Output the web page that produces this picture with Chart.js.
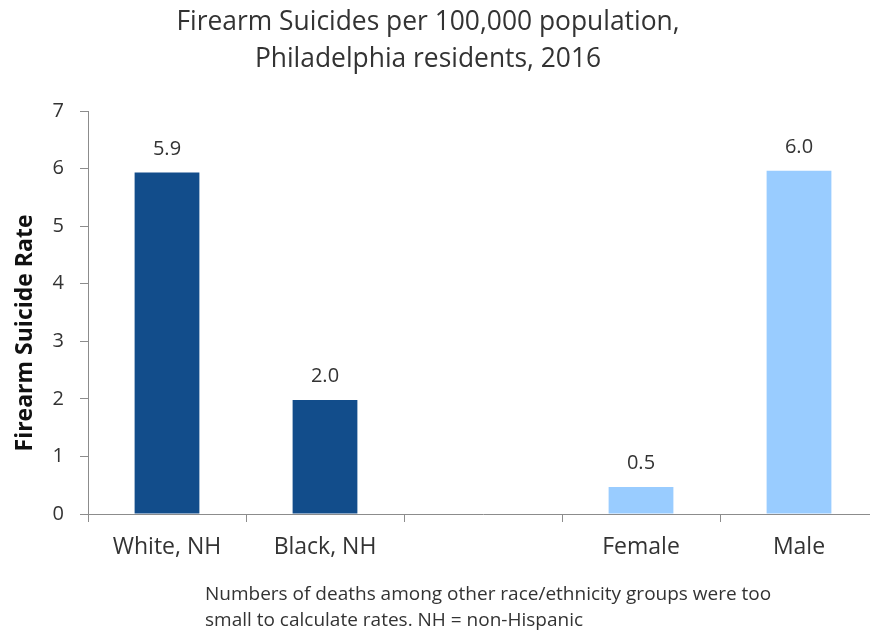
<!DOCTYPE html>
<html><head><meta charset="utf-8">
<script src="https://cdn.jsdelivr.net/npm/chart.js@4"></script>
<style>html,body{margin:0;padding:0;overflow:hidden;background:#fff}
#wrap{width:880px;height:630px;position:relative}</style>
</head><body><div id="wrap"><canvas id="c"></canvas></div>
<script>
const categories = ['White, NH', 'Black, NH', '', 'Female', 'Male'];
const rates = [5.93, 1.98, null, 0.47, 5.96];
const barColors = ['#124D8B', '#124D8B', '#124D8B', '#99CCFF', '#99CCFF'];
const yMin = 0, yMax = 7, yStep = 1;
const titleLines = ['Firearm Suicides per 100,000 population,', 'Philadelphia residents, 2016'];
const footnoteLines = ['Numbers of deaths among other race/ethnicity groups were too', 'small to calculate rates. NH = non-Hispanic'];
const yAxisTitle = 'Firearm Suicide Rate';

const FONT = '"Open Sans", "DejaVu Sans", sans-serif';
const textColor = '#333333';

const textPlugin = {
  id: 'texts',
  afterDatasetsDraw(chart) {
    const ctx = chart.ctx;
    ctx.save();
    ctx.fillStyle = textColor;
    // data labels
    ctx.font = '20px ' + FONT;
    ctx.textAlign = 'center';
    ctx.textBaseline = 'alphabetic';
    const meta = chart.getDatasetMeta(0);
    meta.data.forEach((bar, i) => {
      if (rates[i] == null) return;
      ctx.fillText(rates[i].toFixed(1), bar.x, bar.y - 18);
    });
    // title
    ctx.font = '26.4px ' + FONT;
    ctx.textAlign = 'center';
    titleLines.forEach((l, i) => ctx.fillText(l, 428, 30 + i * 37));
    // footnote
    ctx.font = '19px ' + FONT;
    ctx.textAlign = 'left';
    footnoteLines.forEach((l, i) => ctx.fillText(l, 205, 600 + i * 26));
    // y axis title
    ctx.save();
    ctx.fillStyle = '#111111';
    ctx.font = 'bold 23px ' + FONT;
    ctx.translate(32, 333);
    ctx.rotate(-Math.PI / 2);
    ctx.textAlign = 'center';
    ctx.fillText(yAxisTitle, 0, 0);
    ctx.restore();
    ctx.restore();
  }
};

new Chart(document.getElementById('c'), {
  type: 'bar',
  data: {
    labels: categories,
    datasets: [{
      data: rates,
      backgroundColor: barColors,
      borderWidth: 0,
      barPercentage: 0.41,
      categoryPercentage: 1.0
    }]
  },
  options: {
    responsive: true,
    maintainAspectRatio: false,
    animation: false,
    devicePixelRatio: 1,
    layout: { padding: { top: 111, right: 2, left: 0, bottom: 0 } },
    plugins: { legend: { display: false }, tooltip: { enabled: false }, title: { display: false } },
    scales: {
      x: {
        afterFit(s) { s.height = 116; },
        grid: { display: true, drawOnChartArea: false, offset: true, tickLength: 8, color: '#8c8c8c', lineWidth: 1 },
        border: { color: '#8c8c8c', width: 1 },
        ticks: { color: textColor, font: { family: FONT, size: 23 }, padding: 12, maxRotation: 0, autoSkip: false }
      },
      y: {
        min: yMin, max: yMax,
        afterFit(s) { s.width = 88; },
        grid: { display: true, drawOnChartArea: false, tickLength: 8, color: '#8c8c8c', lineWidth: 1 },
        border: { color: '#8c8c8c', width: 1 },
        ticks: { stepSize: yStep, color: textColor, font: { family: FONT, size: 20 }, padding: 16 },
        title: { display: false, text: yAxisTitle }
      }
    }
  },
  plugins: [textPlugin]
});
</script>
</body></html>
